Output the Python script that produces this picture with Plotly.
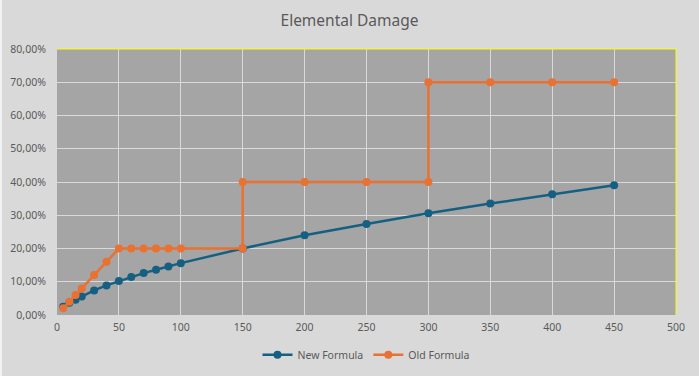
import plotly.graph_objects as go

new_x = [5, 10, 15, 20, 30, 40, 50, 60, 70, 80, 90, 100, 150, 200, 250, 300, 350, 400, 450]
new_y = [0.025, 0.037, 0.046, 0.056, 0.074, 0.089, 0.102, 0.114, 0.126, 0.136, 0.146, 0.156,
         0.200, 0.240, 0.274, 0.306, 0.335, 0.363, 0.390]

old_x = [5, 10, 15, 20, 30, 40, 50, 60, 70, 80, 90, 100, 150, 150, 200, 250, 300, 300, 350, 400, 450]
old_y = [0.02, 0.04, 0.06, 0.08, 0.12, 0.16, 0.20, 0.20, 0.20, 0.20, 0.20, 0.20, 0.20, 0.40,
         0.40, 0.40, 0.40, 0.70, 0.70, 0.70, 0.70]

BLUE = "#156082"
ORANGE = "#E97132"
FONT = "Noto Sans"
TXT = "#595959"

L, R, T, B = 57, 23, 49, 61
PW, PH = 699 - L - R, 376 - T - B

fig = go.Figure()
fig.add_trace(go.Scatter(x=new_x, y=new_y, name="New Formula", mode="lines+markers",
                         line=dict(color=BLUE, width=2.5), marker=dict(color=BLUE, size=8)))
fig.add_trace(go.Scatter(x=old_x, y=old_y, name="Old Formula", mode="lines+markers",
                         line=dict(color=ORANGE, width=2.5), marker=dict(color=ORANGE, size=8)))

fig.update_layout(
    width=699, height=376,
    margin=dict(l=L, r=R, t=T, b=B, autoexpand=False),
    paper_bgcolor="#d9d9d9", plot_bgcolor="#a5a5a5",
    separators=",.",
    title=dict(text="Elemental Damage", x=0.5, xanchor="center", y=0.945, yanchor="middle",
               font=dict(family=FONT, size=15.5, color=TXT)),
    font=dict(family=FONT, size=10.5, color=TXT),
    xaxis=dict(range=[0, 500], dtick=50, tick0=0, showgrid=True, gridcolor="#d9d9d9", gridwidth=1,
               zeroline=False, showline=False, ticks="outside", ticklen=2,
               tickcolor="rgba(0,0,0,0)", automargin=False,
               tickfont=dict(size=10.5, color=TXT)),
    yaxis=dict(range=[0, 0.8], dtick=0.1, tickformat=".2%", showgrid=True, gridcolor="#d9d9d9",
               gridwidth=1, zeroline=False, showline=False, ticks="outside", ticklen=8,
               tickcolor="rgba(0,0,0,0)", automargin=False,
               tickfont=dict(size=10.5, color=TXT)),
    legend=dict(orientation="h", x=0.5, xanchor="center", y=-0.095, yanchor="top",
                font=dict(size=10.5, color=TXT), bgcolor="rgba(0,0,0,0)", itemwidth=30),
    showlegend=True,
    shapes=[
        dict(type="line", xref="paper", yref="paper", x0=0, x1=1, y0=1, y1=1,
             line=dict(color="#ffff00", width=1)),
        dict(type="line", xref="paper", yref="paper", x0=1, x1=1, y0=0, y1=1,
             line=dict(color="#ffff00", width=1)),
        dict(type="line", xref="paper", yref="paper", x0=-(L - 1) / PW, x1=-(L - 1) / PW,
             y0=-B / PH, y1=1 + T / PH, line=dict(color="#f2f2f2", width=2)),
    ],
)

fig.write_html("out.html", config={"displayModeBar": False},
               post_script="document.body.style.margin='0';document.body.style.overflow='hidden';")
